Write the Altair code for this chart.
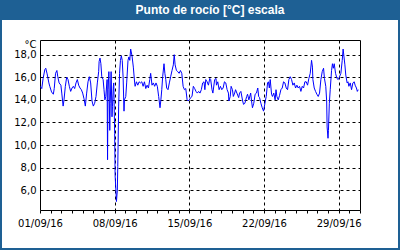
import altair as alt
import pandas as pd

# hours since 2016-09-01 00:00 and dew point values (°C)
hours = [0, 4, 7, 11, 13, 16, 20, 22, 26, 30, 32, 35, 38, 40, 43, 47, 49, 52, 54, 57,
         60, 63, 66, 69, 72, 75, 78, 81, 84, 87, 90, 93, 96, 99, 102, 105, 108, 111, 114, 117,
         120, 123, 126, 129, 132, 133, 135, 137, 139, 142, 144, 146, 148, 151, 152, 153, 155, 157, 158, 160,
         162, 163, 165, 166, 168, 169, 171, 172, 174, 175, 177, 179, 181, 183, 185, 187, 189, 190, 193, 195,
         198, 200, 202, 204, 207, 210, 213, 214, 217, 220, 223, 226, 229, 232, 235, 238, 241, 244, 247, 249,
         252, 255, 258, 261, 264, 267, 270, 272, 274, 276, 279, 281, 283, 285, 288, 291, 294, 297, 300, 302,
         304, 307, 310, 313, 316, 319, 322, 325, 328, 331, 333, 336, 339, 342, 345, 348, 351, 354, 357, 360,
         363, 366, 369, 371, 373, 376, 379, 382, 384, 387, 389, 393, 396, 397, 400, 403, 406, 409, 412, 415,
         418, 421, 424, 425, 428, 430, 433, 435, 438, 440, 443, 447, 449, 452, 456, 458, 461, 465, 467, 470,
         474, 476, 478, 481, 484, 487, 490, 492, 494, 497, 500, 503, 505, 507, 509, 512, 514, 516, 518, 521,
         523, 526, 529, 531, 533, 536, 539, 542, 545, 548, 551, 554, 557, 560, 563, 566, 569, 572, 575, 578,
         581, 584, 587, 590, 593, 596, 599, 602, 605, 608, 611, 613, 614, 617, 620, 623, 626, 629, 632, 635,
         638, 640, 643, 645, 646, 648, 649, 651, 653, 656, 658, 660, 662, 665, 668, 671, 674, 677, 680, 682,
         684, 686, 688, 691, 693, 695, 698, 701, 704, 707, 709, 712, 714, 716]
values = [15.2, 15.0, 15.9, 16.7, 16.8, 16.3, 15.5, 15.2, 14.7, 14.5, 15.0, 16.35, 16.6, 16.05, 15.5, 15.3, 14.6, 13.45, 14.0, 15.2,
          16.0, 15.8, 15.2, 14.75, 15.05, 15.2, 15.0, 15.5, 15.8, 15.3, 15.05, 14.9, 14.6, 14.1, 13.45, 14.6, 15.6, 16.05, 15.5, 13.9,
          13.45, 13.7, 14.3, 15.5, 16.5, 17.4, 17.7, 17.2, 16.05, 15.8, 14.9, 14.0, 14.3, 15.8, 8.7, 14.9, 16.5, 11.3, 13.7, 16.5,
          12.5, 13.4, 15.2, 15.5, 11.0, 7.3, 5.8, 5.0, 6.0, 8.1, 13.45, 16.35, 17.5, 17.9, 17.5, 16.0, 13.0, 14.0, 14.3, 15.5,
          17.5, 17.8, 17.5, 18.5, 17.9, 16.9, 15.5, 15.2, 15.6, 15.3, 15.6, 15.5, 15.6, 15.2, 15.6, 15.0, 15.3, 15.05, 15.8, 16.35,
          15.3, 15.5, 15.2, 15.5, 15.2, 14.3, 13.3, 14.0, 14.9, 16.05, 17.2, 16.35, 15.8, 15.05, 14.9, 15.5, 16.05, 16.6, 17.1, 18.0,
          17.1, 16.6, 16.5, 16.35, 16.6, 16.35, 15.2, 14.9, 15.0, 14.0, 13.9, 14.0, 14.2, 14.3, 15.2, 15.0, 14.75, 14.6, 14.75, 14.6,
          14.9, 15.5, 15.6, 14.9, 15.8, 15.6, 15.3, 15.9, 15.8, 14.9, 14.6, 15.8, 15.9, 15.3, 15.6, 14.9, 15.2, 14.9, 15.05, 15.6,
          15.5, 14.9, 14.6, 13.9, 14.3, 15.2, 14.9, 14.3, 14.6, 14.9, 14.6, 14.2, 14.6, 14.75, 13.9, 13.6, 13.7, 14.3, 14.5, 14.0,
          14.6, 13.9, 13.3, 13.7, 14.5, 14.6, 15.05, 14.3, 14.2, 13.7, 13.3, 13.0, 13.45, 13.9, 14.3, 15.5, 15.6, 15.05, 15.8, 14.5,
          14.3, 14.6, 14.0, 14.9, 14.3, 14.0, 14.4, 14.9, 15.05, 15.6, 15.5, 15.05, 14.9, 15.8, 16.05, 15.8, 15.3, 15.5, 15.05, 15.3,
          15.05, 15.2, 14.75, 15.2, 15.05, 15.6, 15.6, 15.3, 15.9, 16.35, 17.5, 16.9, 15.8, 15.05, 14.75, 14.5, 14.3, 14.6, 15.8, 16.5,
          16.8, 15.9, 15.2, 13.9, 11.6, 10.6, 11.3, 13.7, 14.9, 16.6, 17.2, 16.8, 17.2, 16.35, 15.9, 15.8, 16.05, 16.35, 17.5, 18.5,
          17.8, 17.1, 16.2, 15.5, 15.6, 15.2, 15.5, 14.9, 15.5, 15.6, 15.3, 15.05, 14.75, 14.9]

y_ticks = [6, 8, 10, 12, 14, 16, 18]
label_days = [1, 8, 15, 22, 29]
grid_days = [8, 15, 22, 29]
title_text = "Punto de rocío [°C] escala"
unit_text = "°C"

start = pd.Timestamp("2016-09-01")
times = [(start + pd.Timedelta(hours=h)).strftime("%Y-%m-%dT%H:%M:%S") for h in hours]
df = pd.DataFrame({"t": times, "v": values})

day_ticks = [alt.DateTime(year=2016, month=9, date=d) for d in range(1, 31)] + [alt.DateTime(year=2016, month=10, date=1)]

BLUE = "#1e6094"
FONT = "DejaVu Sans"

label_test = f"month(datum.value) == 8 && indexof({label_days}, date(datum.value)) >= 0"
grid_test = f"month(datum.value) == 8 && indexof({grid_days}, date(datum.value)) >= 0"

line = alt.Chart(df).mark_line(color="#0000ff", strokeWidth=1, clip=True).encode(
    x=alt.X("t:T",
            scale=alt.Scale(domain=[alt.DateTime(year=2016, month=9, date=1),
                                    alt.DateTime(year=2016, month=10, date=1)], nice=False),
            axis=alt.Axis(values=day_ticks, title=None, domain=False,
                          labelExpr=f"{label_test} ? timeFormat(datum.value, '%d/%m/%y') : ''",
                          labelFont=FONT, labelFontSize=10, labelColor="#000000",
                          labelPadding=5, tickSize=3, tickColor="#000000",
                          grid=True, gridColor="#000000", gridDash=[3, 3], gridWidth=1,
                          gridOpacity={"condition": {"test": grid_test, "value": 1}, "value": 0},
                          labelOverlap=False, labelFlush=False)),
    y=alt.Y("v:Q",
            scale=alt.Scale(domain=[4.25, 19.3], nice=False, zero=False),
            axis=alt.Axis(values=y_ticks, title=unit_text, domain=False, ticks=False,
                          labelExpr="replace(format(datum.value, '.1f'), '.', ',')",
                          labelFont=FONT, labelFontSize=10, labelColor="#000000", labelPadding=4,
                          grid=True, gridColor="#000000", gridDash=[3, 3], gridWidth=1,
                          titleAngle=0, titleAlign="right", titleBaseline="alphabetic",
                          titleX=-4, titleY=7, titleFont=FONT, titleFontSize=10,
                          titleFontWeight="normal", titleColor="#000000")),
)

one = alt.Data(values=[{}])

frame = alt.Chart(one).mark_rect(fill=None, stroke=BLUE, strokeWidth=2).encode(
    x=alt.value(-39), x2=alt.value(359), y=alt.value(-39), y2=alt.value(209))

bar = alt.Chart(one).mark_rect(color=BLUE).encode(
    x=alt.value(-40), x2=alt.value(360), y=alt.value(-40), y2=alt.value(-20))

title = alt.Chart(one).mark_text(text=title_text, color="white", font="Liberation Sans",
                                 fontWeight="bold", fontSize=12, align="center",
                                 baseline="middle").encode(x=alt.value(170), y=alt.value(-30))

chart = alt.layer(frame, bar, title, line).properties(
    width=320, height=170,
    autosize=alt.AutoSizeParams(type="none"),
    padding={"left": 40, "top": 40, "right": 40, "bottom": 40},
    background="white",
).configure_view(stroke="#000000", strokeWidth=1)

chart.save("out.html", embed_options={"renderer": "svg", "actions": False})
